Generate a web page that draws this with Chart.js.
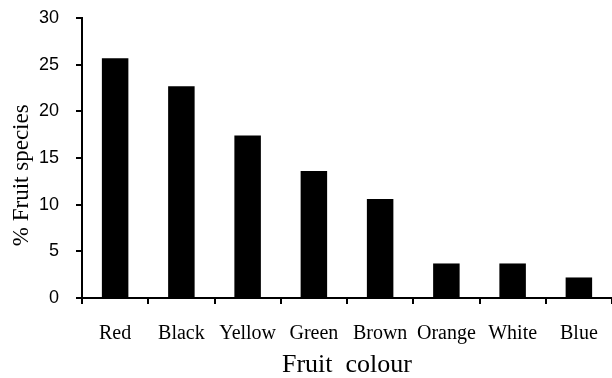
<!DOCTYPE html>
<html>
<head>
<meta charset="utf-8">
<script src="https://cdn.jsdelivr.net/npm/chart.js@4/dist/chart.umd.min.js"></script>
<style>
  html, body { margin: 0; padding: 0; background: #fff; overflow: hidden; }
  #wrap { position: relative; width: 612px; height: 378px; }
</style>
</head>
<body>
<div id="wrap"><canvas id="c"></canvas></div>
<script>
const categories = ["Red", "Black", "Yellow", "Green", "Brown", "Orange", "White", "Blue"];
const percentSpecies = [25.7, 22.7, 17.4, 13.6, 10.6, 3.7, 3.7, 2.2];
const yTicks = [0, 5, 10, 15, 20, 25, 30];
const xTitle = "Fruit  colour";
const yTitle = "% Fruit species";

Chart.defaults.color = "#000";

new Chart(document.getElementById("c"), {
  type: "bar",
  data: {
    labels: categories,
    datasets: [{
      data: percentSpecies,
      backgroundColor: "#000",
      borderWidth: 0,
      barPercentage: 0.4,
      categoryPercentage: 1.0
    }]
  },
  options: {
    responsive: true,
    maintainAspectRatio: false,
    animation: false,
    layout: { padding: { top: 18, right: 0, bottom: 0, left: 0 } },
    plugins: { legend: { display: false }, tooltip: { enabled: false } },
    scales: {
      x: {
        grid: { display: true, drawOnChartArea: false, drawTicks: true, tickLength: 6, color: "#000", lineWidth: 2, offset: true },
        border: { display: true, color: "#000", width: 2 },
        ticks: { font: { family: "Liberation Serif", size: 20 }, padding: 18, maxRotation: 0, autoSkip: false, color: "#000" },
        title: { display: true, text: xTitle, font: { family: "Liberation Serif", size: 26, lineHeight: 1.0 }, padding: { top: 0, bottom: 0 }, color: "#000" },
        afterFit: function (scale) { scale.height = 80; scale.paddingLeft = 0; scale.paddingRight = 0; }
      },
      y: {
        min: 0,
        max: 30,
        afterBuildTicks: function (scale) { scale.ticks = yTicks.map(v => ({ value: v })); },
        grid: { display: true, drawOnChartArea: false, drawTicks: true, tickLength: 6, color: "#000", lineWidth: 2 },
        border: { display: true, color: "#000", width: 2 },
        ticks: { font: { family: "Liberation Sans", size: 18 }, padding: 17, color: "#000" },
        title: { display: true, text: yTitle + "      ", font: { family: "Liberation Serif", size: 23, lineHeight: 1.2 }, padding: { top: 8, bottom: 0 }, color: "#000" },
        afterFit: function (scale) { scale.width = 82; scale.paddingTop = 0; scale.paddingBottom = 0; }
      }
    }
  }
});
</script>
</body>
</html>
